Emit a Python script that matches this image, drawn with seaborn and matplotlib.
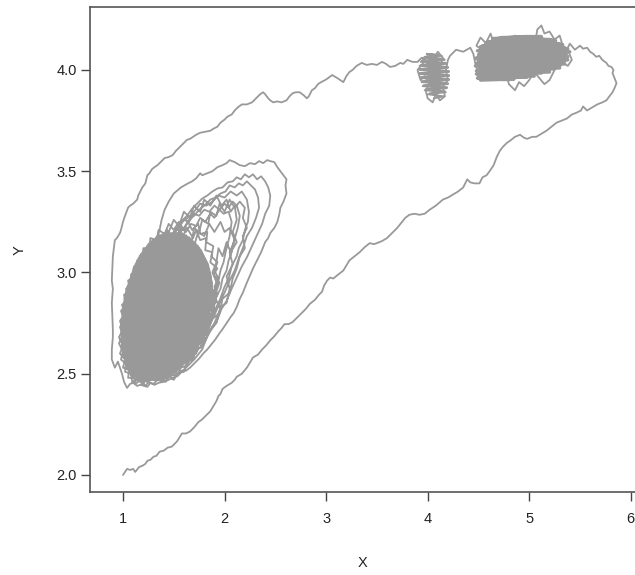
import numpy as np
import pandas as pd
import matplotlib
matplotlib.use("Agg")
import matplotlib.pyplot as plt
import seaborn as sns

# ---- trajectory (X, Y), in path order ----
lower_path = [(1.00,2.00),(1.04,2.03),(1.07,2.025),(1.10,2.03),(1.12,2.015),(1.16,2.04),(1.19,2.045),
    (1.22,2.055),(1.24,2.07),(1.27,2.075),(1.30,2.09),(1.33,2.095),(1.36,2.115),(1.40,2.12),(1.44,2.135),
    (1.48,2.14),(1.53,2.165),(1.55,2.18),(1.58,2.205),(1.62,2.205),(1.66,2.215),(1.70,2.235),(1.74,2.26),
    (1.78,2.275),(1.83,2.30),(1.86,2.315),(1.89,2.34),(1.92,2.365),(1.94,2.39),(1.96,2.40),(1.98,2.425),
    (2.02,2.44),(2.07,2.455),(2.10,2.47),(2.12,2.485),(2.17,2.50),(2.22,2.53),(2.25,2.555),(2.28,2.58),
    (2.33,2.595),(2.37,2.62),(2.41,2.64),(2.45,2.665),(2.49,2.685),(2.53,2.71),(2.56,2.725),(2.59,2.745),
    (2.63,2.745),(2.67,2.755),(2.71,2.775),(2.76,2.80),(2.80,2.82),(2.84,2.845),(2.89,2.865),(2.93,2.89),
    (2.96,2.905),(2.98,2.935),(3.01,2.96),(3.04,2.975),(3.07,2.97),(3.12,2.99),(3.17,3.01),(3.20,3.035),
    (3.23,3.06),(3.28,3.08),(3.33,3.10),(3.38,3.125),(3.43,3.145),(3.47,3.14),(3.50,3.145),(3.55,3.155),
    (3.60,3.17),(3.65,3.195),(3.70,3.22),(3.74,3.245),(3.78,3.27),(3.82,3.285),(3.87,3.29),(3.92,3.285),
    (3.97,3.29),(4.02,3.31),(4.08,3.33),(4.15,3.36),(4.20,3.37),(4.25,3.385),(4.30,3.40),(4.35,3.42),
    (4.39,3.46),(4.42,3.445),(4.46,3.44),(4.51,3.44),(4.54,3.47),(4.58,3.48),(4.61,3.50),(4.65,3.53),
    (4.68,3.57),(4.71,3.60),(4.74,3.62),(4.78,3.64),(4.81,3.65),(4.86,3.67),(4.91,3.68),(4.95,3.665),
    (4.98,3.66),(5.03,3.67),(5.07,3.67),(5.12,3.685),(5.17,3.70),(5.22,3.72),(5.27,3.74),(5.32,3.75),
    (5.37,3.76),(5.42,3.78),(5.47,3.79),(5.51,3.80),(5.53,3.82),(5.57,3.80),(5.62,3.815),(5.67,3.83),
    (5.72,3.84),(5.76,3.85),(5.79,3.87),(5.82,3.89),(5.84,3.91),(5.86,3.935),(5.84,3.96),(5.82,3.985),
    (5.83,4.00),(5.81,4.015),(5.78,4.02),(5.76,4.035),(5.72,4.05),(5.69,4.07),(5.66,4.065),(5.63,4.08),
    (5.60,4.09),(5.57,4.11),(5.53,4.105),(5.50,4.12)]

cluster_right_dense = [(4.52,3.95),(4.85,3.955),(4.49,3.96),(5.05,3.97),(4.48,3.98),(5.20,3.99),
    (4.49,4.00),(5.30,4.01),(4.47,4.02),(5.35,4.03),(4.50,4.04),(5.38,4.05),(4.48,4.06),(5.37,4.07),
    (4.51,4.08),(5.40,4.09),(4.52,4.10),(5.35,4.11),(4.54,4.12),(5.30,4.13),(4.60,4.14),(5.22,4.15),
    (4.72,4.16),(5.12,4.165),(4.95,4.165),(4.64,4.155),(5.26,4.145),(4.57,4.135),(5.33,4.125),
    (4.52,4.115),(5.38,4.105),(4.49,4.095),(5.37,4.085),(4.50,4.075),(5.38,4.065),(4.48,4.055),
    (5.35,4.045),(4.49,4.035),(5.31,4.025),(4.51,4.015),(5.24,4.005),(4.48,3.995),(5.12,3.985),
    (4.50,3.975),(4.98,3.965),(4.54,3.958),(4.80,3.952)]

cluster_right = [(5.45,4.10),(5.40,4.13),(5.35,4.08),(5.30,4.12),(5.28,4.06),(5.22,4.10),(5.18,4.04),
    (5.12,4.09),(5.10,4.15),(5.05,4.11),(5.08,4.20),(5.12,4.22),(5.15,4.18),(5.20,4.19),(5.25,4.15),
    (5.30,4.17),(5.33,4.12),(5.38,4.10),(5.42,4.05),(5.38,4.02),(5.32,4.04),(5.25,4.00),(5.20,3.95),
    (5.15,3.93),(5.10,3.96),(5.05,3.99),(5.00,3.95),(4.95,3.92),(4.90,3.94),(4.86,3.90),(4.80,3.93),
    (4.78,3.97),(4.72,3.95),(4.68,3.99),(4.75,4.03),(4.82,4.00),(4.88,4.05),(4.95,4.02),(5.00,4.07),
    (5.05,4.04),(5.10,4.08),(5.02,4.12),(4.96,4.09),(4.90,4.13),(4.85,4.10),(4.80,4.15),(4.75,4.12),
    (4.70,4.16),(4.65,4.13),(4.62,4.18),(4.58,4.14),(4.55,4.10),(4.60,4.06),(4.55,4.02),(4.50,4.05),
    (4.53,4.10),(4.48,4.12),(4.52,4.16),(4.60,4.12),(4.66,4.08),(4.72,4.10),(4.78,4.06),(4.85,4.08),
    (4.92,4.06),(4.98,4.10),(5.05,4.07),(5.12,4.12),(5.18,4.08),(5.25,4.11),(5.20,4.14),(5.12,4.16),
    (5.05,4.14),(4.98,4.16),(4.92,4.14),(4.86,4.17),(4.80,4.12),(4.74,4.08),(4.68,4.05),(4.62,4.03),
    (4.56,4.00),(4.50,3.98),(4.47,4.03),(4.45,4.08),(4.42,4.11),(4.35,4.09),(4.28,4.10),(4.22,4.07)]

cluster_left_dense = [(4.06,3.86),(4.16,3.87),(4.00,3.88),(4.18,3.89),(3.97,3.90),(4.19,3.91),
    (3.95,3.92),(4.20,3.93),(3.94,3.94),(4.21,3.95),(3.93,3.96),(4.21,3.97),(3.92,3.98),(4.21,3.99),
    (3.92,4.00),(4.20,4.01),(3.92,4.02),(4.19,4.03),(3.93,4.04),(4.17,4.05),(3.95,4.06),(4.14,4.07),
    (3.99,4.08),(4.10,4.075),(3.97,4.065),(4.16,4.055),(3.94,4.045),(4.18,4.035),(3.93,4.025),
    (4.20,4.015),(3.92,4.005),(4.21,3.995),(3.92,3.985),(4.21,3.975),(3.93,3.965),(4.21,3.955),
    (3.94,3.945),(4.20,3.935),(3.96,3.925),(4.19,3.915),(3.98,3.905),(4.17,3.895),(4.02,3.885),
    (4.12,3.87)]

cluster_left = [(4.20,4.05),(4.18,4.00),(4.20,3.95),(4.15,3.92),(4.17,3.87),(4.12,3.85),(4.08,3.88),
    (4.05,3.84),(4.00,3.86),(3.98,3.90),(4.02,3.93),(3.97,3.97),(3.93,3.95),(3.90,4.00),(3.95,4.03),
    (4.00,4.07),(4.05,4.05),(4.10,4.09),(4.15,4.06),(4.12,4.01),(4.08,3.98),(4.10,3.94),(4.05,3.92),
    (4.02,3.97),(4.06,4.01),(4.00,4.03),(3.94,4.06),(3.90,4.04),(3.85,4.04)]

upper_path = [(3.80,4.05),(3.76,4.03),(3.73,4.035),(3.68,4.02),(3.63,4.015),(3.59,4.03),(3.55,4.04),
    (3.50,4.025),(3.45,4.03),(3.40,4.025),(3.35,4.035),(3.30,4.02),(3.26,4.00),(3.23,3.99),(3.20,3.97),
    (3.17,3.94),(3.14,3.95),(3.11,3.96),(3.06,3.975),(3.02,3.96),(2.99,3.95),(2.95,3.94),(2.92,3.93),
    (2.89,3.91),(2.86,3.90),(2.83,3.87),(2.81,3.86),(2.78,3.875),(2.74,3.89),(2.70,3.89),(2.67,3.885),
    (2.64,3.87),(2.61,3.85),(2.56,3.84),(2.52,3.845),(2.48,3.84),(2.45,3.85),(2.43,3.86),(2.40,3.88),
    (2.38,3.89),(2.35,3.88),(2.32,3.865),(2.29,3.85),(2.27,3.84),(2.22,3.83),(2.17,3.83),(2.13,3.815),
    (2.10,3.80),(2.07,3.78),(2.03,3.77),(2.00,3.755),(1.96,3.74),(1.93,3.72),(1.89,3.71),(1.86,3.70),
    (1.81,3.695),(1.76,3.69),(1.72,3.68),(1.69,3.67),(1.66,3.66),(1.63,3.655),(1.60,3.64),(1.56,3.62),
    (1.52,3.60),(1.49,3.58),(1.45,3.57),(1.41,3.565),(1.38,3.55),(1.34,3.53),(1.31,3.52),(1.285,3.51),
    (1.26,3.49),(1.24,3.48),(1.23,3.46),(1.22,3.44),(1.19,3.42),(1.17,3.40),(1.15,3.38),(1.14,3.36),
    (1.10,3.34),(1.07,3.33),(1.05,3.32),(1.02,3.28),(1.00,3.25),(0.98,3.21),(0.97,3.195),(0.94,3.17),
    (0.92,3.16),(0.91,3.12),(0.90,3.08),(0.895,3.02),(0.89,2.96),(0.90,2.92),(0.89,2.85),(0.895,2.78),
    (0.90,2.72),(0.90,2.68),(0.89,2.62),(0.89,2.57),(0.92,2.53),(0.95,2.56),(0.97,2.53),(0.99,2.50),
    (1.01,2.46),(1.04,2.43),(1.07,2.45),(1.10,2.455),(1.14,2.44),(1.17,2.445),(1.21,2.44),(1.24,2.435),
    (1.27,2.455),(1.31,2.445)]

loop_1 = [(1.35,2.455),(1.40,2.46),(1.45,2.47),(1.49,2.48),(1.54,2.49),(1.58,2.51),(1.62,2.515),
    (1.66,2.53),(1.70,2.55),(1.75,2.575),(1.79,2.60),(1.83,2.62),(1.87,2.645),(1.91,2.67),(1.95,2.70),
    (1.98,2.72),(2.02,2.75),(2.06,2.78),(2.09,2.80),(2.12,2.83),(2.15,2.87),(2.18,2.90),(2.22,2.95),
    (2.25,2.985),(2.28,3.02),(2.32,3.06),(2.36,3.10),(2.40,3.15),(2.43,3.17),(2.45,3.195),(2.49,3.22),
    (2.52,3.25),(2.54,3.29),(2.55,3.32),(2.58,3.35),(2.61,3.39),(2.60,3.43),(2.61,3.46),(2.58,3.48),
    (2.55,3.50),(2.52,3.52),(2.49,3.545),(2.45,3.55),(2.42,3.555),(2.38,3.54),(2.34,3.55),(2.30,3.535),
    (2.25,3.54),(2.20,3.525),(2.15,3.53),(2.10,3.545),(2.05,3.555),(2.02,3.54),(1.98,3.53),(1.93,3.52),
    (1.88,3.50),(1.83,3.49),(1.78,3.48),(1.76,3.49),(1.72,3.465),(1.68,3.45),(1.64,3.44),(1.57,3.42),
    (1.50,3.39),(1.45,3.35),(1.41,3.31),(1.38,3.26),(1.36,3.21),(1.33,3.15),(1.30,3.11),(1.27,3.07),
    (1.24,3.02),(1.20,2.97),(1.16,2.92),(1.12,2.86),(1.08,2.80),(1.05,2.74),(1.03,2.68),(1.02,2.62),
    (1.03,2.56),(1.06,2.51),(1.10,2.48),(1.15,2.465),(1.20,2.47)]

loop_2 = [(1.25,2.47),(1.32,2.48),(1.40,2.485),(1.47,2.51),(1.55,2.525),(1.62,2.56),(1.68,2.575),
    (1.74,2.62),(1.80,2.655),(1.86,2.71),(1.92,2.755),(1.97,2.82),(2.02,2.86),(2.07,2.92),(2.12,2.975),
    (2.17,3.03),(2.22,3.075),(2.27,3.13),(2.32,3.185),(2.37,3.24),(2.40,3.29),(2.44,3.33),(2.45,3.38),
    (2.43,3.42),(2.40,3.45),(2.36,3.475),(2.32,3.46),(2.28,3.485),(2.24,3.47),(2.20,3.485),(2.16,3.46),
    (2.12,3.47),(2.08,3.45),(2.03,3.445),(1.98,3.42),(1.93,3.415),(1.88,3.40),(1.83,3.38),(1.78,3.365),
    (1.73,3.34),(1.68,3.315),(1.63,3.28),(1.58,3.255),(1.53,3.21),(1.48,3.175),(1.43,3.13),(1.38,3.085),
    (1.33,3.03),(1.28,2.975),(1.23,2.91),(1.18,2.845),(1.14,2.77),(1.10,2.715),(1.07,2.65),(1.05,2.595),
    (1.06,2.54),(1.10,2.505),(1.16,2.48)]

loop_3 = [(1.22,2.49),(1.30,2.47),(1.38,2.50),(1.45,2.52),(1.52,2.51),(1.58,2.55),(1.65,2.58),
    (1.71,2.61),(1.76,2.66),(1.82,2.70),(1.87,2.76),(1.91,2.80),(1.96,2.86),(2.00,2.90),(2.05,2.96),
    (2.10,3.01),(2.14,3.07),(2.18,3.12),(2.22,3.18),(2.27,3.22),(2.31,3.27),(2.34,3.32),(2.33,3.37),
    (2.30,3.41),(2.26,3.43),(2.22,3.45),(2.18,3.43),(2.14,3.44),(2.10,3.42),(2.05,3.43),(2.01,3.40),
    (1.96,3.39),(1.91,3.37),(1.86,3.36),(1.80,3.33),(1.75,3.31),(1.70,3.28),(1.65,3.26),(1.60,3.22),
    (1.55,3.19),(1.50,3.15),(1.45,3.11),(1.40,3.06),(1.35,3.01),(1.30,2.95),(1.25,2.89),(1.20,2.83),
    (1.15,2.76),(1.11,2.70),(1.07,2.64),(1.04,2.58),(1.05,2.53),(1.09,2.50),(1.15,2.48)]

loop_4 = [(1.20,2.50),(1.35,2.49),(1.50,2.53),(1.62,2.58),(1.74,2.65),(1.84,2.74),(1.90,2.81),
    (1.95,2.86),(2.00,2.93),(2.04,2.97),(2.07,3.03),(2.12,3.08),(2.14,3.12),(2.18,3.16),(2.20,3.21),
    (2.23,3.25),(2.24,3.30),(2.22,3.36),(2.17,3.40),(2.12,3.38),(2.06,3.40),(2.00,3.37),(1.94,3.38),
    (1.88,3.35),(1.82,3.33),(1.76,3.34),(1.70,3.30),(1.64,3.27),(1.58,3.25),(1.52,3.21),(1.46,3.17),
    (1.40,3.12),(1.34,3.06),(1.28,3.00),(1.22,2.93),(1.16,2.86),(1.11,2.78),(1.07,2.70),(1.04,2.62),
    (1.05,2.55),(1.10,2.51)]

loop_5 = [(1.18,2.49),(1.30,2.48),(1.42,2.50),(1.55,2.55),(1.66,2.61),(1.72,2.64),(1.76,2.69),
    (1.81,2.72),(1.85,2.78),(1.89,2.82),(1.92,2.88),(1.96,2.92),(1.98,2.97),(2.02,3.01),(2.04,3.06),
    (2.07,3.10),(2.09,3.15),(2.13,3.22),(2.15,3.28),(2.12,3.33),(2.08,3.35),(2.04,3.32),(2.00,3.34),
    (1.95,3.31),(1.90,3.33),(1.85,3.30),(1.80,3.31),(1.75,3.28),(1.70,3.29),(1.65,3.25),(1.60,3.26),
    (1.55,3.22),(1.50,3.20),(1.45,3.16),(1.40,3.13),(1.35,3.08),(1.30,3.02),(1.25,2.96),(1.20,2.89),
    (1.15,2.82),(1.11,2.75),(1.07,2.67),(1.05,2.60),(1.07,2.54),(1.12,2.50)]

loop_6 = [(1.20,2.50),(1.33,2.50),(1.46,2.53),(1.58,2.58),(1.68,2.65),(1.77,2.73),(1.82,2.77),
    (1.85,2.82),(1.89,2.87),(1.91,2.92),(1.94,2.96),(1.96,3.01),(1.99,3.05),(2.01,3.10),(2.03,3.14),
    (2.05,3.18),(2.07,3.25),(2.04,3.30),(1.99,3.29),(1.95,3.31),(1.90,3.27),(1.86,3.29),(1.81,3.25),
    (1.76,3.27),(1.72,3.23),(1.67,3.24),(1.62,3.20),(1.57,3.22),(1.52,3.17),(1.47,3.15),(1.42,3.10),
    (1.37,3.06),(1.32,3.00),(1.27,2.94),(1.22,2.88),(1.17,2.81),(1.13,2.74),(1.09,2.66),(1.07,2.59),
    (1.09,2.53),(1.14,2.50)]

loop_7 = [(1.25,2.48),(1.40,2.52),(1.52,2.55),(1.60,2.60),(1.68,2.62),(1.75,2.68),(1.82,2.70),
    (1.88,2.77),(1.95,2.80),(1.98,2.87),(2.05,2.90),(2.08,2.97),(2.12,3.02),(2.15,3.08),(2.20,3.12),
    (2.18,3.18),(2.22,3.22),(2.18,3.27),(2.20,3.32),(2.15,3.35),(2.10,3.32),(2.05,3.36),(2.00,3.30),
    (1.95,3.34),(1.92,3.28),(1.86,3.30),(1.84,3.24),(1.78,3.26),(1.75,3.20),(1.70,3.22),(1.68,3.16),
    (1.62,3.17),(1.58,3.12),(1.52,3.13),(1.50,3.08),(1.44,3.06),(1.40,3.00),(1.34,2.98),(1.30,2.92),
    (1.25,2.88),(1.22,2.82),(1.16,2.78),(1.14,2.72),(1.09,2.68),(1.08,2.62),(1.10,2.55),(1.16,2.52),
    (1.22,2.50)]

loop_8 = [(1.28,2.52),(1.42,2.50),(1.55,2.57),(1.65,2.56),(1.72,2.65),(1.80,2.66),(1.86,2.72),
    (1.92,2.75),(1.96,2.83),(2.02,2.85),(2.05,2.92),(2.02,2.98),(2.08,3.04),(2.05,3.10),(2.10,3.16),
    (2.05,3.22),(2.00,3.20),(1.96,3.25),(1.90,3.20),(1.85,3.24),(1.80,3.18),(1.74,3.20),(1.70,3.13),
    (1.64,3.14),(1.60,3.08),(1.54,3.09),(1.50,3.02),(1.45,3.03),(1.40,2.96),(1.35,2.95),(1.32,2.88),
    (1.26,2.86),(1.24,2.79),(1.18,2.76),(1.16,2.69),(1.12,2.64),(1.13,2.58),(1.18,2.53),(1.24,2.52)]

net_path = [(1.30,2.60),(1.45,3.20),(1.50,3.26),(1.55,3.23),(1.60,3.30),(1.66,3.27),(1.70,3.33),
    (1.76,3.30),(1.80,3.36),(1.86,3.33),(1.92,3.38),(1.97,3.33),(2.02,3.36),(2.06,3.30),(2.10,3.33),
    (2.12,3.26),(2.08,3.20),(2.12,3.15),(2.06,3.10),(2.02,3.15),(1.98,3.08),(1.94,3.12),(1.92,3.05),
    (1.88,3.00),(1.95,2.95),(1.90,2.88),(1.96,2.82),(1.90,2.75),(1.84,2.70),(1.78,2.62),(1.70,2.57),
    (1.60,2.52),(1.48,2.49),(1.35,2.47),(1.18,2.47)]

core_up = [(1.18,2.47),(1.42,2.48),(1.11,2.49),(1.48,2.50),(1.08,2.51),(1.53,2.52),(1.05,2.53),
    (1.57,2.54),(1.035,2.55),(1.61,2.56),(1.025,2.57),(1.64,2.58),(1.015,2.59),(1.67,2.60),
    (1.005,2.61),(1.69,2.62),(1.00,2.63),(1.71,2.64),(0.995,2.65),(1.735,2.66),(0.99,2.67),
    (1.755,2.68),(0.99,2.69),(1.775,2.70),(0.99,2.71),(1.795,2.72),(0.99,2.73),(1.81,2.74),
    (0.99,2.75),(1.825,2.76),(0.995,2.77),(1.835,2.78),(1.00,2.79),(1.845,2.80),(1.005,2.81),
    (1.855,2.82),(1.01,2.83),(1.86,2.84),(1.015,2.85),(1.865,2.86),(1.02,2.87),(1.87,2.88),
    (1.03,2.89),(1.87,2.90),(1.04,2.91),(1.87,2.92),(1.05,2.93),(1.87,2.94),(1.065,2.95),
    (1.865,2.96),(1.08,2.97),(1.86,2.98),(1.09,2.99),(1.85,3.00),(1.105,3.01),(1.84,3.02),
    (1.12,3.03),(1.83,3.04),(1.14,3.05),(1.81,3.06),(1.16,3.07),(1.79,3.08),(1.185,3.09),
    (1.77,3.10),(1.21,3.11),(1.745,3.12),(1.245,3.13),(1.71,3.14),(1.28,3.15),(1.67,3.16),
    (1.33,3.17),(1.62,3.18),(1.40,3.19)]

core_down = [(1.58,3.19),(1.36,3.18),(1.65,3.17),(1.30,3.16),(1.69,3.15),(1.26,3.14),(1.73,3.13),
    (1.23,3.12),(1.76,3.11),(1.20,3.10),(1.78,3.09),(1.17,3.08),(1.80,3.07),(1.15,3.06),(1.82,3.05),
    (1.13,3.04),(1.835,3.03),(1.11,3.02),(1.845,3.01),(1.10,3.00),(1.855,2.99),(1.085,2.98),
    (1.86,2.97),(1.07,2.96),(1.87,2.95),(1.06,2.94),(1.87,2.93),(1.045,2.92),(1.87,2.91),
    (1.035,2.90),(1.87,2.89),(1.025,2.88),(1.87,2.87),(1.02,2.86),(1.865,2.85),(1.01,2.84),
    (1.86,2.83),(1.005,2.82),(1.85,2.81),(1.00,2.80),(1.84,2.79),(1.00,2.78),(1.83,2.77),
    (0.995,2.76),(1.82,2.75),(0.99,2.74),(1.805,2.73),(0.99,2.72),(1.785,2.71),(0.99,2.70),
    (1.765,2.69),(0.99,2.68),(1.745,2.67),(0.99,2.66),(1.72,2.65),(0.995,2.64),(1.70,2.63),
    (1.00,2.62),(1.68,2.61),(1.01,2.60),(1.655,2.59),(1.02,2.58),(1.625,2.57),(1.03,2.56),
    (1.59,2.55),(1.04,2.54),(1.55,2.53),(1.06,2.52),(1.51,2.51),(1.09,2.50),(1.45,2.49),
    (1.14,2.48),(1.38,2.47)]

edge_a = [(1.30,2.45),(1.36,2.48),(1.42,2.46),(1.47,2.50),(1.53,2.49),(1.57,2.53),(1.63,2.54),
    (1.66,2.58),(1.72,2.60),(1.74,2.64),(1.80,2.67),(1.80,2.71),(1.86,2.74),(1.85,2.78),(1.90,2.81),
    (1.88,2.85),(1.93,2.89),(1.90,2.93),(1.94,2.97),(1.90,3.01),(1.93,3.05),(1.87,3.08),(1.89,3.13),
    (1.82,3.15),(1.83,3.20),(1.76,3.19),(1.74,3.24),(1.68,3.21),(1.64,3.25),(1.60,3.21),(1.55,3.25),
    (1.50,3.21),(1.45,3.24),(1.41,3.19),(1.35,3.21),(1.33,3.16),(1.27,3.17),(1.26,3.12),(1.20,3.12),
    (1.20,3.07),(1.14,3.06),(1.14,3.01),(1.08,2.99),(1.09,2.94),(1.03,2.92),(1.05,2.87),(0.99,2.84),
    (1.02,2.80),(0.97,2.76),(1.00,2.72),(0.96,2.68),(1.00,2.64),(0.97,2.60),(1.02,2.57),(1.00,2.53),
    (1.06,2.52),(1.05,2.48),(1.11,2.48),(1.12,2.45),(1.18,2.47),(1.22,2.44),(1.27,2.47)]

edge_b = [(1.32,2.49),(1.38,2.46),(1.44,2.49),(1.50,2.47),(1.55,2.51),(1.60,2.51),(1.63,2.56),
    (1.69,2.57),(1.71,2.62),(1.77,2.63),(1.78,2.68),(1.83,2.70),(1.84,2.75),(1.88,2.78),(1.87,2.83),
    (1.92,2.86),(1.89,2.91),(1.93,2.94),(1.89,2.99),(1.93,3.02),(1.86,3.05),(1.88,3.10),(1.81,3.11),
    (1.82,3.17),(1.76,3.16),(1.72,3.21),(1.69,3.17),(1.63,3.22),(1.59,3.18),(1.53,3.22),(1.48,3.18),
    (1.43,3.21),(1.40,3.16),(1.34,3.18),(1.31,3.13),(1.25,3.14),(1.24,3.09),(1.18,3.09),(1.17,3.04),
    (1.11,3.03),(1.11,2.98),(1.05,2.96),(1.07,2.91),(1.01,2.89),(1.03,2.84),(0.98,2.81),(1.01,2.77),
    (0.97,2.73),(1.00,2.69),(0.96,2.65),(1.00,2.61),(0.98,2.57),(1.03,2.55),(1.02,2.51),(1.08,2.50),
    (1.09,2.46),(1.15,2.47),(1.19,2.45),(1.25,2.48)]

# thin pen: the main walk (one unit) and the small left cluster fill (its own unit);
# wide pen: the heavily over-written fills (each its own unit, so no joining strokes)
thin_units = [[lower_path, cluster_right, cluster_left, upper_path, loop_1, loop_2, loop_3,
               loop_4, loop_5, loop_6, loop_7, loop_8, net_path, edge_a, edge_b],
              [cluster_left_dense]]
wide_units = [[cluster_right_dense], [core_up, core_down]]

def to_frame(units):
    rows = []
    for uid, segs in enumerate(units):
        for seg in segs:
            for (x, y) in seg:
                rows.append((uid, x, y))
    d = pd.DataFrame(rows, columns=["part", "X", "Y"])
    d["step"] = np.arange(len(d))
    return d

df_thin = to_frame(thin_units)
df_wide = to_frame(wide_units)

x_ticks = [1, 2, 3, 4, 5, 6]
y_ticks = [2.0, 2.5, 3.0, 3.5, 4.0]
y_tick_labels = ["2.0", "2.5", "3.0", "3.5", "4.0"]

sns.set_style("white")
plt.rcParams["font.family"] = ["Liberation Sans", "DejaVu Sans"]

W, H = 635, 575
fig = plt.figure(figsize=(W / 100, H / 100), dpi=100)
xlim = (0.675, 6.08)
ylim = (1.916, 4.311)
ppu = 101.55
ax = fig.add_axes([90 / W, 83 / H, (xlim[1] - xlim[0]) * ppu / W, 485 / H])

line_color = "#999999"
sns.lineplot(data=df_wide, x="X", y="Y", units="part", sort=False, estimator=None,
             color=line_color, linewidth=2.4, ax=ax)
sns.lineplot(data=df_thin, x="X", y="Y", units="part", sort=False, estimator=None,
             color=line_color, linewidth=1.3, ax=ax)

ax.set_xlim(*xlim)
ax.set_ylim(*ylim)
ax.set_xticks(x_ticks)
ax.set_xticklabels([str(t) for t in x_ticks])
ax.set_yticks(y_ticks)
ax.set_yticklabels(y_tick_labels)
ax.tick_params(axis="both", direction="out", length=6.5, width=1.0, color="#444444",
               labelsize=10.5, labelcolor="#222222", bottom=True, left=True)
ax.tick_params(axis="x", pad=8)
ax.tick_params(axis="y", pad=3)
for s in ax.spines.values():
    s.set_color("#555555")
    s.set_linewidth(1.2)

ax.set_xlabel("X", fontsize=10.5, color="#222222", va="center")
ax.set_ylabel("Y", fontsize=10.5, color="#222222", va="center", ha="center")
ax.xaxis.set_label_coords((363 - 90) / ((xlim[1] - xlim[0]) * ppu), -(563 - 492) / 485)
ax.yaxis.set_label_coords(-(90 - 20) / ((xlim[1] - xlim[0]) * ppu), (492 - 250) / 485)

fig.savefig("out.png", dpi=100)
